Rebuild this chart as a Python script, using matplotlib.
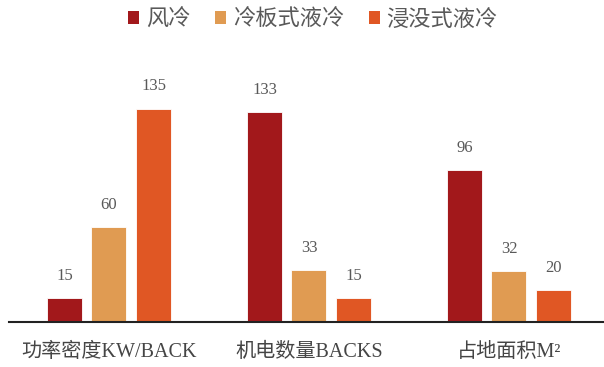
import matplotlib
matplotlib.use('Agg')
import matplotlib.pyplot as plt
from matplotlib.patches import Patch
import numpy as np

# data
categories = ['功率密度KW/BACK', '机电数量BACKS', '占地面积M²']
series_names = ['风冷', '冷板式液冷', '浸没式液冷']
feng_leng = [15, 133, 96]
lengban = [60, 33, 32]
jinmo = [135, 15, 20]

colors = ['#A2181B', '#E09B52', '#E05724']
text_col = '#595959'
fonts = ['Liberation Serif', 'Noto Sans CJK SC', 'DejaVu Sans']

fig = plt.figure(figsize=(6.04, 3.67), dpi=100)
ax = fig.add_axes([9/604, 45/367, 595/604, 237/367])

x = np.arange(len(categories))
w = 0.175
step = 0.2225
for i, (vals, c) in enumerate(zip([feng_leng, lengban, jinmo], colors)):
    pos = x + (i - 1) * step
    ax.bar(pos, vals, width=w, color=c, edgecolor='white', linewidth=0.6)
    for p, v in zip(pos, vals):
        ax.text(p, v + 9, str(v), ha='center', va='bottom', fontsize=12,
                color=text_col, family=fonts)

ax.set_xlim(-0.5, 2.475)
ax.set_ylim(0, 150)
ax.set_yticks([])
ax.set_xticks(x)
ax.set_xticklabels(categories, fontsize=14.5, color='#454545', family=fonts)
ax.tick_params(axis='x', length=0, pad=15)
for s in ['top', 'right', 'left']:
    ax.spines[s].set_visible(False)
ax.spines['bottom'].set_linewidth(1.5)
ax.spines['bottom'].set_color('#222222')

handles = [Patch(facecolor=c, edgecolor='none') for c in colors]
leg = fig.legend(handles, series_names, loc='center', bbox_to_anchor=(313/604, 1 - 20/367),
                 ncol=3, frameon=False, handlelength=0.5, handleheight=0.5,
                 handletextpad=0.3, columnspacing=1.1,
                 prop={'family': fonts, 'size': 16})
for t in leg.get_texts():
    t.set_color(text_col)

plt.savefig('out.png', dpi=100)
